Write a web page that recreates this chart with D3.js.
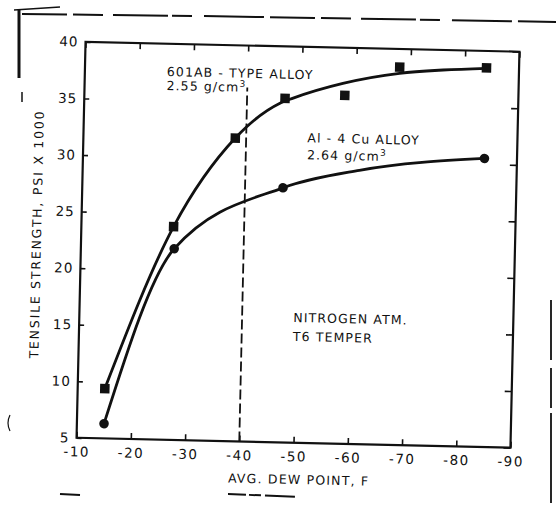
<!DOCTYPE html>
<html>
<head>
<meta charset="utf-8">
<script src="https://cdn.jsdelivr.net/npm/d3@7"></script>
<style>
  html, body { margin: 0; padding: 0; background: #fff; }
  svg text { font-family: "DejaVu Sans", "Liberation Sans", sans-serif; fill: #111; }
</style>
</head>
<body>
<svg id="chart" width="556" height="510"></svg>
<script>
// Measured points: 601AB-type alloy (squares)
const dewPoint601 = [-15, -27, -38, -47, -58, -68, -84];
const strength601 = [9.4, 23.85, 31.8, 35.4, 35.8, 38.4, 38.5];
// Measured points: Al-4Cu alloy (circles)
const dewPointCu = [-15, -27.2, -47, -84];
const strengthCu = [6.3, 21.9, 27.5, 30.5];
// Faired curves drawn through each data set
const fair601X = [-15, -27, -38, -40, -46, -48.5, -57.6, -68, -76, -84];
const fair601Y = [9.4, 23.85, 31.8, 32.8, 34.95, 35.45, 36.85, 37.85, 38.23, 38.47];
const fairCuX = [-15, -27.2, -47, -61, -84];
const fairCuY = [6.3, 21.9, 27.5, 29.2, 30.5];
// Axis ticks
const xTicks = [-10, -20, -30, -40, -50, -60, -70, -80, -90];
const yTicks = [5, 10, 15, 20, 25, 30, 35, 40];
// Dashed reference line at -40 F
const refDewPoint = -40;
const refTop = 36.3;

const svg = d3.select("#chart");
const plot = { left: 81, right: 515, top: 46.75, bottom: 442.75 };
const ink = "#111";

// The sheet sits slightly askew
const g = svg.append("g").attr("transform", "rotate(1.3, 298, 244.75)");

const x = d3.scaleLinear().domain([-10, -90]).range([plot.left, plot.right]);
const y = d3.scaleLinear().domain([5, 40]).range([plot.bottom, plot.top]);

// Axes with inward ticks
const styleAxis = sel => {
  sel.select(".domain").remove();
  sel.selectAll(".tick line").attr("stroke", ink).attr("stroke-width", 1.6);
  sel.selectAll("text").attr("font-size", 13.5).attr("fill", ink)
    .style("font-family", "'DejaVu Sans', sans-serif");
};

g.append("g")
  .attr("transform", `translate(0,${plot.bottom})`)
  .call(d3.axisBottom(x).tickValues(xTicks).tickSizeInner(-6).tickSizeOuter(0).tickPadding(9)
    .tickFormat(d => "-" + Math.abs(d)))
  .call(styleAxis)
  .call(s => s.selectAll("text").attr("letter-spacing", 1.5));

g.append("g")
  .attr("transform", `translate(0,${plot.top})`)
  .call(d3.axisTop(x).tickValues(xTicks).tickSizeInner(-6).tickSizeOuter(0).tickFormat(""))
  .call(styleAxis);

g.append("g")
  .attr("transform", `translate(${plot.left},0)`)
  .call(d3.axisLeft(y).tickValues(yTicks).tickSizeInner(-5).tickSizeOuter(0).tickPadding(7)
    .tickFormat(d3.format("d")))
  .call(styleAxis)
  .call(s => s.selectAll("text").attr("letter-spacing", 1));

g.append("g")
  .attr("transform", `translate(${plot.right},0)`)
  .call(d3.axisRight(y).tickValues(yTicks).tickSizeInner(-7).tickSizeOuter(0).tickFormat(""))
  .call(styleAxis);

// Plot frame
g.append("rect")
  .attr("x", plot.left).attr("y", plot.top)
  .attr("width", plot.right - plot.left).attr("height", plot.bottom - plot.top)
  .attr("fill", "none").attr("stroke", ink).attr("stroke-width", 2.2);

// Vertical dashed line
g.append("line")
  .attr("x1", x(refDewPoint)).attr("x2", x(refDewPoint))
  .attr("y1", y(5)).attr("y2", y(refTop))
  .attr("stroke", ink).attr("stroke-width", 1.8)
  .attr("stroke-dasharray", "10,4");

// Faired curves
const line = d3.line().x(d => x(d[0])).y(d => y(d[1])).curve(d3.curveMonotoneX);
g.append("path")
  .datum(fair601X.map((v, i) => [v, fair601Y[i]]))
  .attr("d", line).attr("fill", "none").attr("stroke", ink).attr("stroke-width", 2.8)
  .attr("stroke-linecap", "round");
g.append("path")
  .datum(fairCuX.map((v, i) => [v, fairCuY[i]]))
  .attr("d", line).attr("fill", "none").attr("stroke", ink).attr("stroke-width", 2.8)
  .attr("stroke-linecap", "round");

// Markers
const sq = 9.5;
g.append("g").selectAll("rect")
  .data(dewPoint601.map((v, i) => [v, strength601[i]]))
  .join("rect")
  .attr("x", d => x(d[0]) - sq / 2).attr("y", d => y(d[1]) - sq / 2)
  .attr("width", sq).attr("height", sq).attr("fill", ink);

g.append("g").selectAll("circle")
  .data(dewPointCu.map((v, i) => [v, strengthCu[i]]))
  .join("circle")
  .attr("cx", d => x(d[0])).attr("cy", d => y(d[1])).attr("r", 4.8).attr("fill", ink);

// Annotations
function label(xPos, yPos, parts) {
  const t = g.append("text").attr("x", xPos).attr("y", yPos)
    .attr("font-size", 12.5).attr("letter-spacing", 1.1);
  parts.forEach(p => {
    const s = t.append("tspan").text(p.text);
    if (p.sup) s.attr("font-size", 9).attr("dy", -5).attr("letter-spacing", 0);
  });
  return t;
}
label(163, 79, [{ text: "601AB - TYPE ALLOY" }]);
label(163, 93, [{ text: "2.55 g/cm" }, { text: "3", sup: true }]);
label(305, 142, [{ text: "Al - 4 Cu ALLOY" }]);
label(305, 159, [{ text: "2.64 g/cm" }, { text: "3", sup: true }]);
label(295, 322, [{ text: "NITROGEN ATM." }]);
label(295, 341, [{ text: "T6 TEMPER" }]);

// Axis titles
g.append("text")
  .attr("x", 304).attr("y", 484)
  .attr("text-anchor", "middle").attr("font-size", 12.5).attr("letter-spacing", 1.2)
  .text("AVG. DEW POINT, F");

g.append("text")
  .attr("transform", "translate(41,240) rotate(-90)")
  .attr("text-anchor", "middle").attr("font-size", 12.5).attr("letter-spacing", 1.8)
  .text("TENSILE STRENGTH, PSI X 1000");

// Worn page border around the figure
const border = svg.append("g").attr("fill", "none").attr("stroke", ink);
border.append("path").attr("d", "M19,9 L19,78").attr("stroke-width", 3);
border.append("path").attr("d", "M22,92 L22,102").attr("stroke-width", 1.5);
border.append("path").attr("d", "M14,10 L60,7").attr("stroke-width", 1.5);
border.append("path").attr("d", "M22,14 L200,16 L380,19 L556,22")
  .attr("stroke-width", 2).attr("stroke-dasharray", "45,6,30,10,55,4,20,12,60,6");
border.append("path").attr("d", "M551,300 L551,510").attr("stroke-width", 1.8)
  .attr("stroke-dasharray", "60,8,40,5,90");
border.append("path").attr("d", "M60,494 L80,495").attr("stroke-width", 2);
border.append("path").attr("d", "M228,494 L300,497").attr("stroke-width", 2)
  .attr("stroke-dasharray", "18,3,12,4,30");
border.append("path").attr("d", "M10,415 Q6,423 10,431").attr("stroke-width", 1.2);
</script>
</body>
</html>
